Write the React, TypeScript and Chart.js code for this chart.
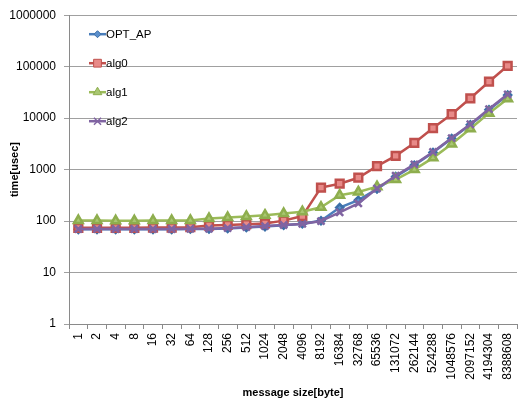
import React, { useEffect, useRef } from 'react';
import { Chart, registerables } from 'chart.js';

Chart.register(...registerables);

const sizes = ['1', '2', '4', '8', '16', '32', '64', '128', '256', '512', '1024', '2048', '4096', '8192', '16384', '32768', '65536', '131072', '262144', '524288', '1048576', '2097152', '4194304', '8388608'];

const optAp = [69, 69, 69, 69, 69, 69, 70, 70, 72, 75, 78, 83, 89, 101, 183, 255, 420, 730, 1220, 2150, 4000, 7400, 14600, 28000];
const alg0 = [74, 74, 74, 74, 75, 75, 76, 82, 84, 87, 90, 102, 125, 446, 532, 695, 1170, 1850, 3290, 6410, 11900, 24300, 51000, 104000];
const alg1 = [102, 102, 101, 101, 102, 102, 103, 112, 117, 123, 130, 140, 152, 185, 318, 368, 466, 640, 1000, 1690, 3150, 6240, 12500, 23700];
const alg2 = [70, 70, 70, 70, 70, 70, 71, 71, 73, 76, 80, 84, 88, 100, 148, 220, 430, 760, 1260, 2200, 4100, 7600, 15000, 29000];

const yTickValues = [1, 10, 100, 1000, 10000, 100000, 1000000];

const seriesLabels = ['OPT_AP', 'alg0', 'alg1', 'alg2'];

function drawMarker(ctx: CanvasRenderingContext2D, style: string, x: number, y: number, r: number, fill: string, stroke: string) {
  ctx.save();
  ctx.fillStyle = fill;
  ctx.strokeStyle = stroke;
  ctx.lineWidth = 1;
  ctx.beginPath();
  if (style === 'rectRot') {
    ctx.moveTo(x, y - r);
    ctx.lineTo(x + r, y);
    ctx.lineTo(x, y + r);
    ctx.lineTo(x - r, y);
    ctx.closePath();
    ctx.fill();
    ctx.stroke();
  } else if (style === 'rect') {
    const s = Math.SQRT1_2 * r;
    ctx.rect(x - s, y - s, 2 * s, 2 * s);
    ctx.fill();
    ctx.stroke();
  } else if (style === 'triangle') {
    ctx.moveTo(x, y - r);
    ctx.lineTo(x + r * 0.866, y + r * 0.5);
    ctx.lineTo(x - r * 0.866, y + r * 0.5);
    ctx.closePath();
    ctx.fill();
    ctx.stroke();
  } else if (style === 'crossRot') {
    const o = r * Math.SQRT1_2;
    ctx.lineWidth = 1.5;
    ctx.moveTo(x - o, y - o);
    ctx.lineTo(x + o, y + o);
    ctx.moveTo(x - o, y + o);
    ctx.lineTo(x + o, y - o);
    ctx.stroke();
  }
  ctx.restore();
}

const insideLegend = {
  id: 'insideLegend',
  afterDraw(chart: any) {
    const ctx: CanvasRenderingContext2D = chart.ctx;
    const area = chart.chartArea;
    chart.data.datasets.forEach((ds: any, i: number) => {
      const y = area.top + 19 + i * 29;
      const x0 = area.left + 20;
      ctx.save();
      ctx.strokeStyle = ds.borderColor;
      ctx.lineWidth = 2.5;
      ctx.beginPath();
      ctx.moveTo(x0, y);
      ctx.lineTo(x0 + 17, y);
      ctx.stroke();
      drawMarker(ctx, ds.pointStyle, x0 + 8.5, y, ds.pointRadius, ds.pointBackgroundColor, ds.pointBorderColor);
      ctx.fillStyle = '#000';
      ctx.font = '11.5px "Liberation Sans", Arial, sans-serif';
      ctx.textBaseline = 'middle';
      ctx.textAlign = 'left';
      ctx.fillText(ds.label, x0 + 17, y + 1);
      ctx.restore();
    });
  },
};

export default function App() {
  const canvasRef = useRef<HTMLCanvasElement | null>(null);

  useEffect(() => {
    if (!canvasRef.current) return;
    const tickFont = { family: '"Liberation Sans", Arial, sans-serif', size: 12 };
    const titleFont = { family: '"Liberation Sans", Arial, sans-serif', size: 11, weight: 'bold' as const };
    const chart = new Chart(canvasRef.current, {
      type: 'line',
      data: {
        labels: sizes,
        datasets: [
          {
            label: seriesLabels[0],
            data: optAp,
            borderColor: '#4A7EBB',
            backgroundColor: '#4F81BD',
            pointStyle: 'rectRot',
            pointRadius: 3.5,
            pointBackgroundColor: '#5B8FCC',
            pointBorderColor: '#3C6FA8',
            borderWidth: 2.5,
            order: 3,
          },
          {
            label: seriesLabels[1],
            data: alg0,
            borderColor: '#C0504D',
            backgroundColor: '#C0504D',
            pointStyle: 'rect',
            pointRadius: 5.5,
            pointBackgroundColor: '#E88A88',
            pointBorderColor: '#C0504D',
            borderWidth: 2.5,
            order: 2,
          },
          {
            label: seriesLabels[2],
            data: alg1,
            borderColor: '#9BBB59',
            backgroundColor: '#9BBB59',
            pointStyle: 'triangle',
            pointRadius: 5,
            pointBackgroundColor: '#A9C772',
            pointBorderColor: '#8EAE4E',
            borderWidth: 2.5,
            order: 1,
          },
          {
            label: seriesLabels[3],
            data: alg2,
            borderColor: '#8064A2',
            backgroundColor: '#8064A2',
            pointStyle: 'crossRot',
            pointRadius: 5,
            pointBackgroundColor: '#8064A2',
            pointBorderColor: '#8064A2',
            borderWidth: 2.5,
            order: 0,
          },
        ],
      },
      options: {
        responsive: false,
        animation: false,
        events: [],
        layout: { padding: { top: 13, right: 0, bottom: 0, left: 0 } },
        plugins: {
          legend: { display: false },
          tooltip: { enabled: false },
        },
        elements: { line: { tension: 0 } },
        scales: {
          x: {
            type: 'category',
            offset: true,
            grid: { display: true, drawOnChartArea: false, offset: true, tickLength: 5, color: '#8a8a8a' },
            border: { color: '#8a8a8a' },
            ticks: { autoSkip: false, maxRotation: 90, minRotation: 90, padding: 4, color: '#000', font: tickFont },
            title: { display: true, text: 'message size[byte]', color: '#000', font: titleFont, padding: { top: 0, bottom: 0 } },
            afterFit: (s: any) => { s.height = 76; s.paddingRight = 0; s.paddingLeft = 0; },
          },
          y: {
            type: 'logarithmic',
            min: 1,
            max: 1000000,
            afterBuildTicks: (s: any) => { s.ticks = yTickValues.map((v) => ({ value: v })); },
            grid: { color: '#a0a0a0', tickLength: 5 },
            border: { color: '#8a8a8a' },
            ticks: { padding: 8, color: '#000', font: tickFont, callback: (v: any) => String(v) },
            title: { display: true, text: 'time[usec]', color: '#000', font: titleFont, padding: { top: 8, bottom: 0 } },
            afterFit: (s: any) => { s.width = 69; },
          },
        },
      },
      plugins: [insideLegend],
    });
    return () => chart.destroy();
  }, []);

  return (
    <div style={{ position: 'absolute', left: 0, top: 0, width: 523, height: 400, overflow: 'hidden' }}>
      <canvas ref={canvasRef} width={525} height={400} style={{ display: 'block' }} />
    </div>
  );
}
